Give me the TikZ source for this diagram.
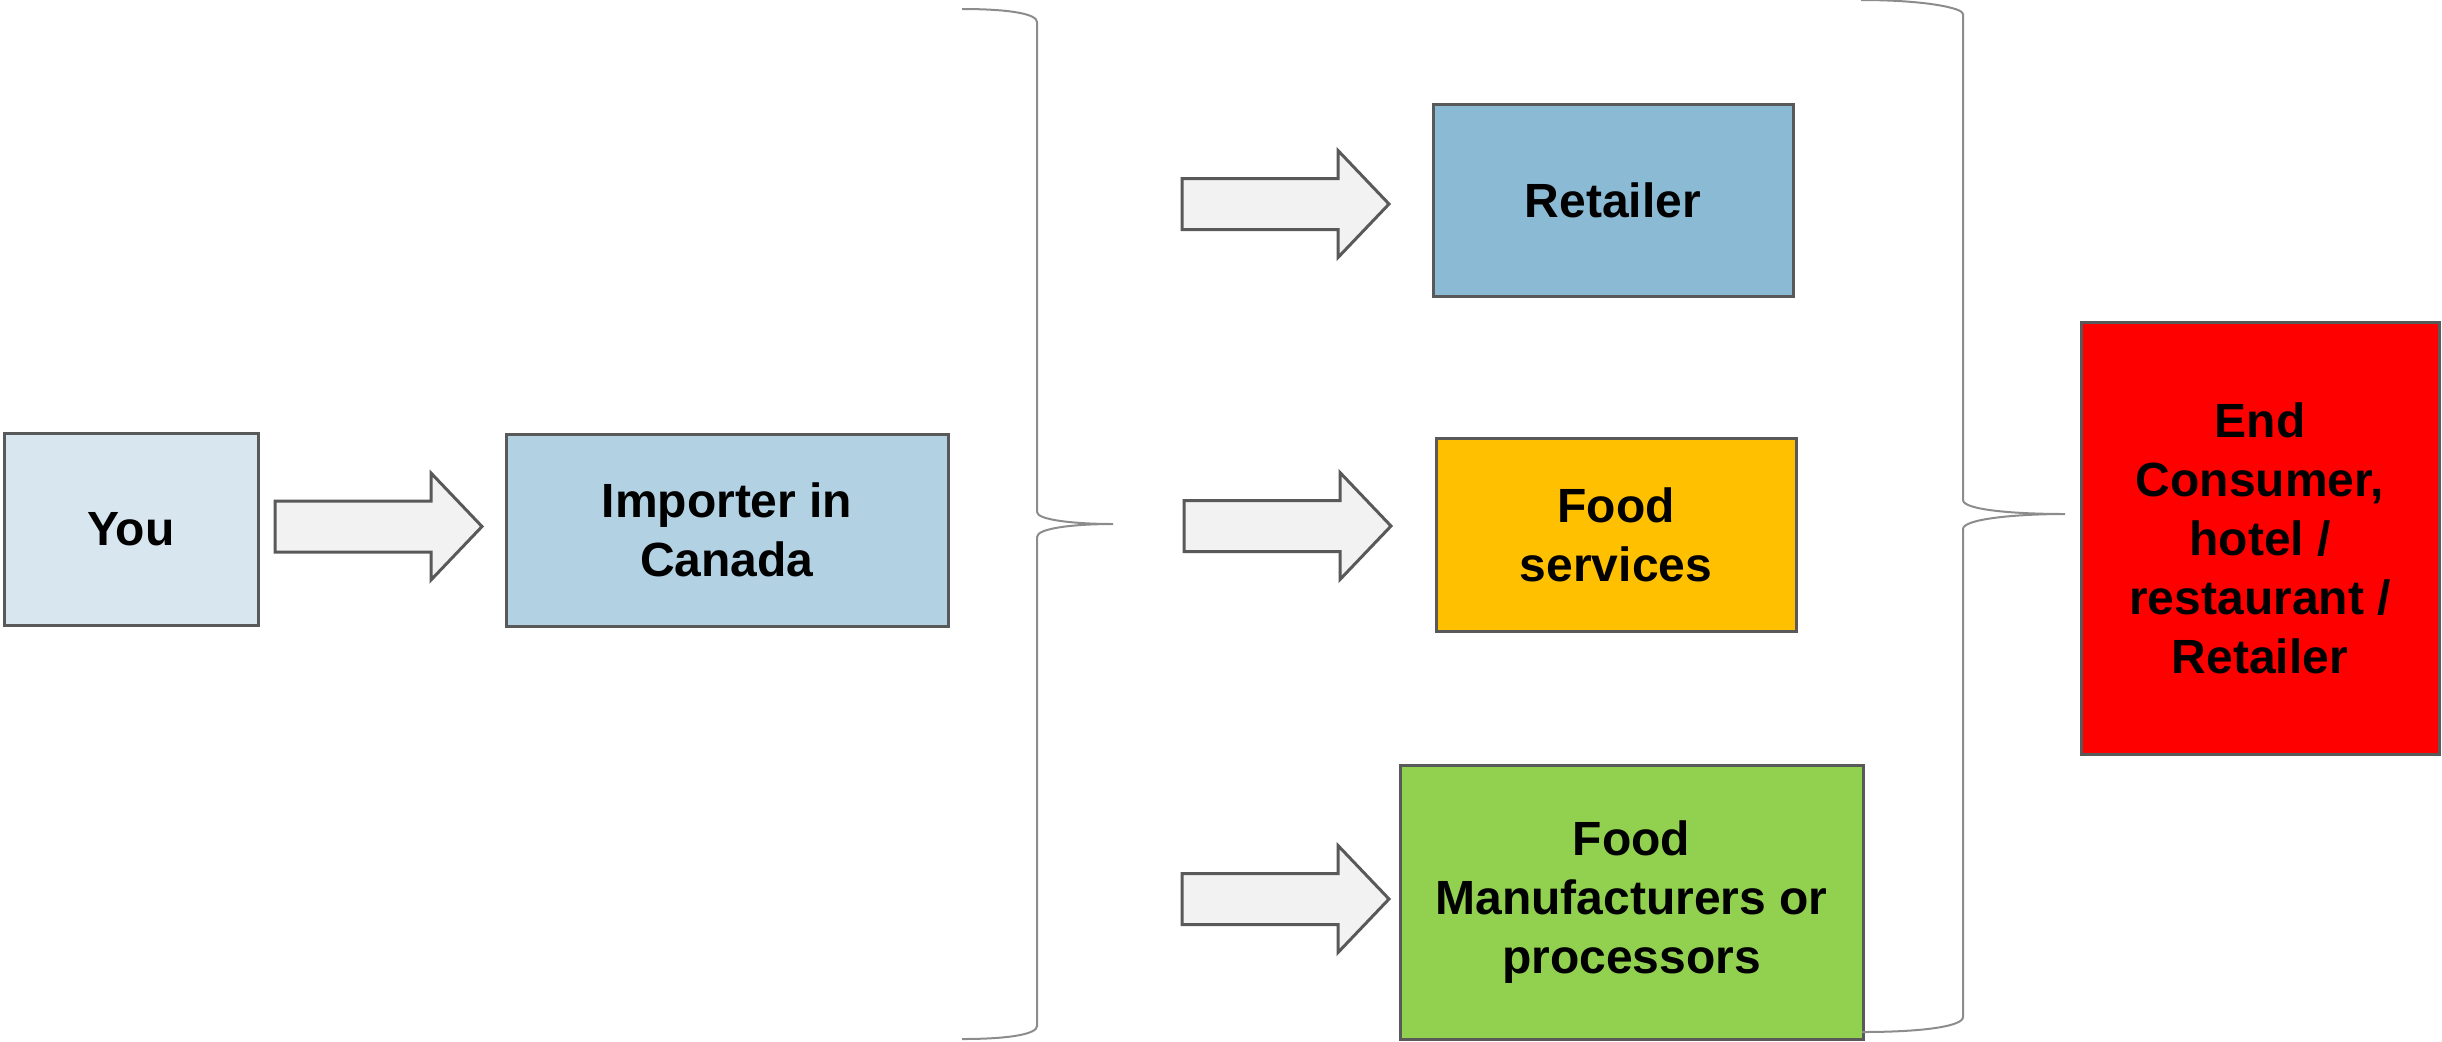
\documentclass[tikz,border=0pt]{standalone}
\usepackage{fontspec}
\setmainfont{Liberation Sans}
\definecolor{edgegray}{HTML}{595959}
\definecolor{bracegray}{HTML}{8C8C8C}
\definecolor{youblue}{HTML}{D7E6EF}
\definecolor{impblue}{HTML}{B2D1E3}
\definecolor{retblue}{HTML}{8BBAD5}
\definecolor{foodorange}{HTML}{FFC000}
\definecolor{mfggreen}{HTML}{92D050}
\definecolor{endred}{HTML}{FF0000}
\definecolor{arrowfill}{HTML}{F2F2F2}
\tikzset{
  box/.style={draw=edgegray, line width=1.5pt, rectangle, align=center,
    font=\fontsize{24}{29.5}\selectfont\bfseries, inner sep=0pt},
  bracestyle/.style={draw=bracegray, line width=1pt},
  fatarrow/.pic={\draw[draw=edgegray, fill=arrowfill, line width=1.5pt, line join=miter]
    (0,-25.5) -- (156,-25.5) -- (156,-53.5) -- (207,0) -- (156,53.5) -- (156,25.5) -- (0,25.5) -- cycle;}
}
\begin{document}
\begin{tikzpicture}[x=0.5pt,y=-0.5pt]
\useasboundingbox (0,0) rectangle (2442,1041);
% boxes
\node[box, fill=youblue, minimum width=127pt, minimum height=96pt] (you) at (131,529) {You};
\node[box, fill=impblue, minimum width=221pt, minimum height=96pt] (imp) at (727,530) {Importer in\\Canada};
\node[box, fill=retblue, minimum width=180pt, minimum height=96pt] (ret) at (1613,200) {Retailer};
\node[box, fill=foodorange, minimum width=180pt, minimum height=96.5pt] (fs) at (1616,534.5) {Food\\services};
\node[box, fill=mfggreen, minimum width=231.5pt, minimum height=137pt] (mfg) at (1631.5,902) {Food\\Manufacturers or\\processors};
\node[box, fill=endred, minimum width=179pt, minimum height=216pt] (endc) at (2260,538) {End\\Consumer,\\hotel /\\restaurant /\\Retailer};
% block arrows
\pic at (275,526.5) {fatarrow};
\pic at (1182,204) {fatarrow};
\pic at (1184,526) {fatarrow};
\pic at (1182,899) {fatarrow};
% left brace
\coordinate (lbt) at (962,9);
\coordinate (lbm) at (1113,524);
\coordinate (lbb) at (962,1039);
\draw[bracestyle] (lbt) .. controls (1010,9) and (1037,14) .. (1037,22)
  -- (1037,512) .. controls (1037,520) and (1075,524) .. (lbm)
  .. controls (1075,524) and (1037,528) .. (1037,537)
  -- (1037,1026) .. controls (1037,1034) and (1010,1039) .. (lbb);
% right brace
\coordinate (rbt) at (1861,0);
\coordinate (rbm) at (2065,514);
\coordinate (rbb) at (1862,1032);
\draw[bracestyle] (rbt) .. controls (1925,0) and (1963,8) .. (1963,14)
  -- (1963,500) .. controls (1963,510) and (2015,514) .. (rbm)
  .. controls (2015,514) and (1963,519) .. (1963,529)
  -- (1963,1017) .. controls (1963,1026) and (1925,1032) .. (rbb);
\end{tikzpicture}
\end{document}
